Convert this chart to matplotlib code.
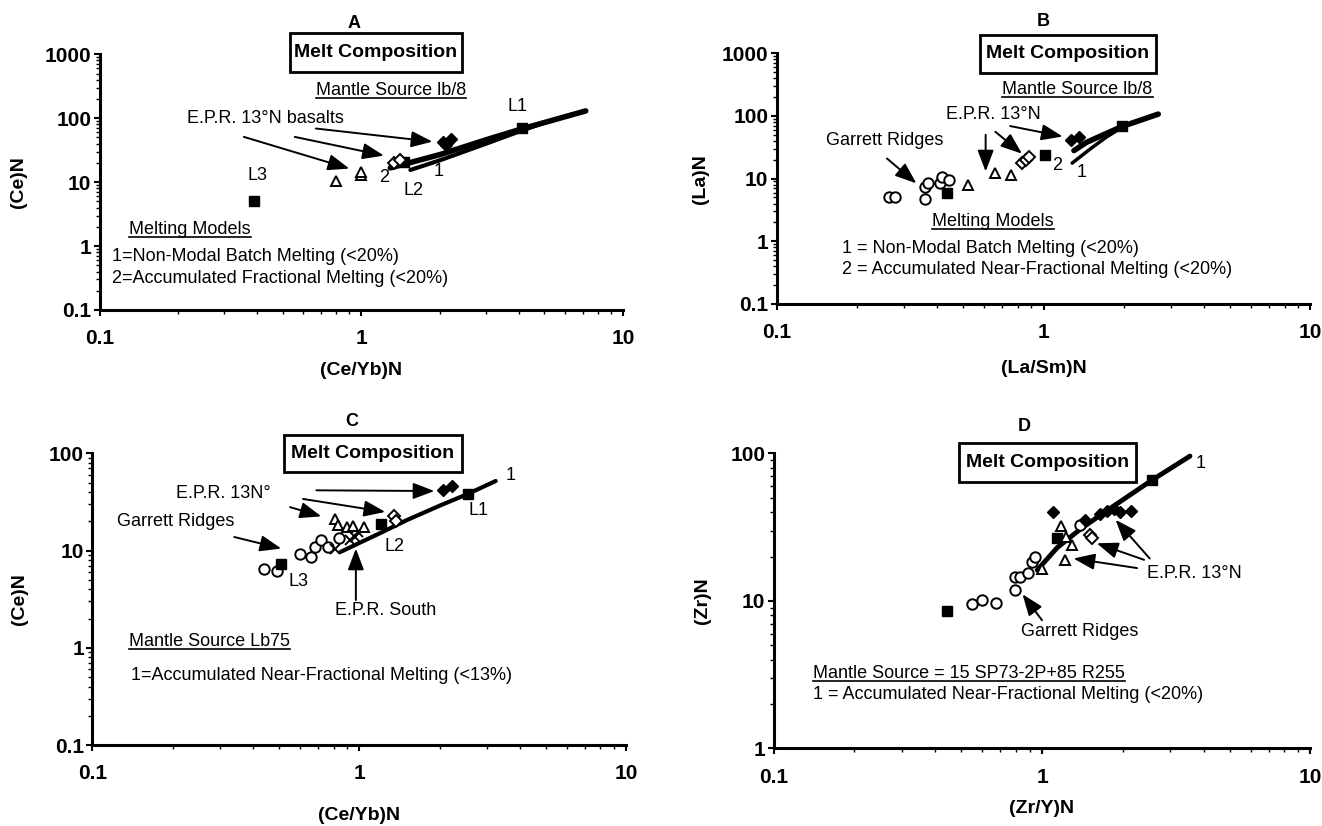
import matplotlib
matplotlib.use('Agg')
import matplotlib.pyplot as plt
from matplotlib.lines import Line2D
from matplotlib.patches import Rectangle

plt.rcParams['font.family'] = ['Liberation Sans', 'DejaVu Sans']
plt.rcParams['font.size'] = 13

# ---------------- panel A : (Ce)N vs (Ce/Yb)N ----------------
a_sq_x = [0.39, 1.45, 4.1]
a_sq_y = [5.0, 21, 70]
a_tri_x = [0.80, 1.0, 1.0]
a_tri_y = [10.5, 13, 14.5]
a_odia_x = [1.33, 1.40]
a_odia_y = [20, 22]
a_fdia_x = [2.05, 2.2, 2.1]
a_fdia_y = [42, 47, 38]
a_c1_x = [1.54, 2.0, 3.0, 4.1, 5.0]
a_c1_y = [15.5, 22, 40, 64, 85]
a_c2_x = [1.29, 2.0, 3.1, 4.1, 7.2]
a_c2_y = [16.7, 27, 48, 68, 130]

# ---------------- panel B : (La)N vs (La/Sm)N ----------------
b_circ_x = [0.264, 0.278, 0.36, 0.36, 0.37, 0.41, 0.415, 0.443]
b_circ_y = [5.0, 5.0, 4.8, 7.4, 8.4, 8.4, 10.8, 9.5]
b_sq_x = [0.436, 1.01, 1.97]
b_sq_y = [6.0, 24, 70]
b_tri_x = [0.52, 0.66, 0.755]
b_tri_y = [7.9, 12.2, 11.5]
b_odia_x = [0.83, 0.86, 0.88]
b_odia_y = [17.6, 20, 22]
b_fdia_x = [1.27, 1.36]
b_fdia_y = [42, 46]
b_c1_x = [1.28, 1.5, 1.72, 1.97]
b_c1_y = [17.7, 30, 46, 66]
b_c2_x = [1.3, 1.45, 1.97, 2.69]
b_c2_y = [28, 38, 68, 107]

# ---------------- panel C : (Ce)N vs (Ce/Yb)N ----------------
c_circ_x = [0.44, 0.49, 0.60, 0.66, 0.68, 0.72, 0.76, 0.84]
c_circ_y = [6.5, 6.2, 9.3, 8.6, 10.9, 12.8, 11.0, 13.5]
c_x_x = [0.81, 0.92, 0.96, 0.99]
c_x_y = [10.5, 12.8, 13.7, 15.7]
c_tri_x = [0.81, 0.83, 0.90, 0.95, 1.04]
c_tri_y = [21, 18.3, 17.5, 18, 17.5]
c_sq_x = [0.51, 1.2, 2.56]
c_sq_y = [7.2, 18.9, 38.5]
c_odia_x = [1.35, 1.37]
c_odia_y = [22.5, 20]
c_fdia_x = [2.05, 2.23]
c_fdia_y = [41.7, 46]
c_c1_x = [0.85, 1.0, 1.2, 1.5, 2.0, 2.56, 3.24]
c_c1_y = [9.7, 12, 15.2, 20.5, 29, 38.5, 52]

# ---------------- panel D : (Zr)N vs (Zr/Y)N ----------------
d_sq_x = [0.443, 1.14, 2.57]
d_sq_y = [8.55, 26.6, 66]
d_circ_x = [0.55, 0.60, 0.675, 0.79, 0.79, 0.83, 0.89, 0.92, 0.94, 1.38]
d_circ_y = [9.6, 10.1, 9.7, 11.9, 14.6, 14.6, 15.4, 18.5, 20, 32.8]
d_tri_x = [1.0, 1.18, 1.23, 1.29, 1.22]
d_tri_y = [16.4, 32, 27, 24, 19]
d_odia_x = [1.51, 1.53]
d_odia_y = [28, 26.7]
d_fdia_x = [1.1, 1.45, 1.65, 1.75, 1.85, 1.95, 2.14]
d_fdia_y = [40, 35.5, 39, 41, 42, 40, 41]
d_c1_x = [0.96, 1.14, 1.4, 1.78, 2.57, 3.56]
d_c1_y = [16.2, 23, 31, 42, 66, 96]

fig = plt.figure(figsize=(13.22, 8.26), dpi=100)
axA = fig.add_axes([0.0753, 0.6247, 0.396, 0.3096])
axB = fig.add_axes([0.5874, 0.632, 0.4039, 0.3035])
axC = fig.add_axes([0.0699, 0.098, 0.4039, 0.3531])
axD = fig.add_axes([0.5852, 0.094, 0.406, 0.357])

underlined = []


def setup(ax, ylim, xlabel, ylabel, letter, letter_x, letter_y, ylab_x, xlab_y):
    ax.set_xscale('log')
    ax.set_yscale('log')
    ax.set_xlim(0.1, 10)
    ax.set_ylim(*ylim)
    for s in ['top', 'right']:
        ax.spines[s].set_visible(False)
    for s in ['left', 'bottom']:
        ax.spines[s].set_linewidth(2.2)
    ax.tick_params(which='major', length=4, width=1.5, labelsize=15)
    ax.tick_params(which='minor', length=3, width=1)
    ax.tick_params(axis='x', which='major', pad=10)
    ax.tick_params(axis='y', which='major', pad=2)
    ax.xaxis.set_major_formatter(plt.FuncFormatter(lambda v, p: '%g' % v))
    ax.yaxis.set_major_formatter(plt.FuncFormatter(lambda v, p: '%g' % v))
    for lab in ax.get_xticklabels() + ax.get_yticklabels():
        lab.set_fontweight('bold')
    ax.set_xlabel(xlabel, fontweight='bold', fontsize=14)
    ax.set_ylabel(ylabel, fontweight='bold', fontsize=14)
    ax.xaxis.set_label_coords(0.5, xlab_y)
    ax.yaxis.set_label_coords(ylab_x, 0.5)
    ax.text(letter_x, letter_y, letter, transform=ax.transAxes, ha='center',
            va='center', fontweight='bold', fontsize=13, clip_on=False)


def melt_box(ax, x0, x1, y0, y1):
    ax.add_patch(Rectangle((x0, y0), x1 - x0, y1 - y0, transform=ax.transAxes,
                           fc='white', ec='black', lw=2, clip_on=False, zorder=5))
    ax.text((x0 + x1) / 2, (y0 + y1) / 2, 'Melt Composition', transform=ax.transAxes,
            ha='center', va='center', fontweight='bold', fontsize=14,
            clip_on=False, zorder=6)


def uline(ax, x, y, s, ha='left', coords='axes'):
    tr = ax.transAxes if coords == 'axes' else ax.transData
    t = ax.text(x, y, s, transform=tr, ha=ha, va='center')
    underlined.append(t)
    return t


def arrow(ax, tail, head):
    ax.annotate('', xy=head, xytext=tail,
                arrowprops=dict(arrowstyle='-|>,head_length=1.0,head_width=0.38',
                                color='black', lw=1.4, shrinkA=0, shrinkB=0))


def mk_open(ax, x, y, m, ms=7.5):
    ax.plot(x, y, m, ls='none', mfc='white', mec='black', mew=1.4, ms=ms)


def mk_fill(ax, x, y, m, ms=7.5):
    ax.plot(x, y, m, ls='none', mfc='black', mec='black', ms=ms)


# ---- A ----
ax = axA
setup(ax, (0.1, 1000), '(Ce/Yb)N', '(Ce)N', 'A', 0.486, 1.121, -0.138, -0.203)
ax.plot(a_c1_x, a_c1_y, color='black', lw=3, solid_capstyle='round')
ax.plot(a_c2_x, a_c2_y, color='black', lw=4, solid_capstyle='round')
mk_fill(ax, a_sq_x, a_sq_y, 's')
mk_open(ax, a_tri_x, a_tri_y, '^')
mk_open(ax, a_odia_x, a_odia_y, 'D', 6.5)
mk_fill(ax, a_fdia_x, a_fdia_y, 'D', 6.5)
ax.text(0.215, 99, 'E.P.R. 13°N basalts', va='center')
arrow(ax, (0.67, 69), (1.87, 43))
arrow(ax, (0.557, 51), (1.22, 26))
arrow(ax, (0.356, 51), (0.90, 16.3))
ax.text(3.95, 150, 'L1', ha='center', va='center')
ax.text(1.58, 7.5, 'L2', ha='center', va='center')
ax.text(0.40, 12.9, 'L3', ha='center', va='center')
ax.text(1.22, 12, '2', ha='center', va='center')
ax.text(1.98, 14.5, '1', ha='center', va='center')
uline(ax, 1.30, 275, 'Mantle Source lb/8', ha='center', coords='data')
melt_box(ax, 0.364, 0.692, 0.932, 1.082)
uline(ax, 0.057, 0.313, 'Melting Models')
ax.text(0.024, 0.209, '1=Non-Modal Batch Melting (<20%)', transform=ax.transAxes,
        va='center')
ax.text(0.024, 0.124, '2=Accumulated Fractional Melting (<20%)', transform=ax.transAxes,
        va='center')

# ---- B ----
ax = axB
setup(ax, (0.1, 1000), '(La/Sm)N', '(La)N', 'B', 0.5, 1.126, -0.127, -0.223)
ax.plot(b_c1_x, b_c1_y, color='black', lw=2.5, solid_capstyle='round')
ax.plot(b_c2_x, b_c2_y, color='black', lw=4, solid_capstyle='round')
mk_open(ax, b_circ_x, b_circ_y, 'o')
mk_fill(ax, b_sq_x, b_sq_y, 's')
mk_open(ax, b_tri_x, b_tri_y, '^')
mk_open(ax, b_odia_x, b_odia_y, 'D', 6.5)
mk_fill(ax, b_fdia_x, b_fdia_y, 'D', 6.5)
ax.text(0.65, 104, 'E.P.R. 13°N', ha='center', va='center')
arrow(ax, (0.75, 69), (1.18, 47))
arrow(ax, (0.66, 56), (0.83, 25))
arrow(ax, (0.607, 50), (0.607, 13))
ax.text(0.254, 41, 'Garrett Ridges', ha='center', va='center')
arrow(ax, (0.259, 21), (0.334, 8.4))
ax.text(1.12, 16, '2', ha='center', va='center')
ax.text(1.39, 12.7, '1', ha='center', va='center')
uline(ax, 1.34, 260, 'Mantle Source lb/8', ha='center', coords='data')
melt_box(ax, 0.381, 0.710, 0.923, 1.073)
uline(ax, 0.405, 0.328, 'Melting Models', ha='center')
ax.text(0.123, 0.222, '1 = Non-Modal Batch Melting (<20%)', transform=ax.transAxes,
        va='center')
ax.text(0.123, 0.136, '2 = Accumulated Near-Fractional Melting (<20%)',
        transform=ax.transAxes, va='center')

# ---- C ----
ax = axC
setup(ax, (0.1, 100), '(Ce/Yb)N', '(Ce)N', 'C', 0.486, 1.109, -0.121, -0.212)
ax.plot(c_c1_x, c_c1_y, color='black', lw=3, solid_capstyle='round')
mk_open(ax, c_circ_x, c_circ_y, 'o')
mk_open(ax, c_x_x, c_x_y, 'x')
mk_open(ax, c_tri_x, c_tri_y, '^')
mk_fill(ax, c_sq_x, c_sq_y, 's')
mk_open(ax, c_odia_x, c_odia_y, 'D', 6.5)
mk_fill(ax, c_fdia_x, c_fdia_y, 'D', 6.5)
ax.text(3.69, 59, '1', ha='center', va='center')
ax.text(2.8, 26, 'L1', ha='center', va='center')
ax.text(1.35, 10.9, 'L2', ha='center', va='center')
ax.text(0.59, 4.8, 'L3', ha='center', va='center')
ax.text(0.31, 38.5, 'E.P.R. 13N°', ha='center', va='center')
arrow(ax, (0.69, 41.7), (1.91, 41))
arrow(ax, (0.615, 34), (1.25, 25))
arrow(ax, (0.55, 28), (0.72, 22.5))
ax.text(0.205, 19.7, 'Garrett Ridges', ha='center', va='center')
arrow(ax, (0.34, 13.8), (0.51, 10.5))
ax.text(1.25, 2.44, 'E.P.R. South', ha='center', va='center')
arrow(ax, (0.97, 3.1), (0.97, 10.5))
melt_box(ax, 0.359, 0.692, 0.937, 1.063)
uline(ax, 0.069, 0.354, 'Mantle Source Lb75')
ax.text(0.073, 0.24, '1=Accumulated Near-Fractional Melting (<13%)',
        transform=ax.transAxes, va='center')

# ---- D ----
ax = axD
setup(ax, (1, 100), '(Zr/Y)N', '(Zr)N', 'D', 0.467, 1.09, -0.117, -0.176)
ax.plot(d_c1_x, d_c1_y, color='black', lw=3.5, solid_capstyle='round')
mk_fill(ax, d_sq_x, d_sq_y, 's')
mk_open(ax, d_circ_x, d_circ_y, 'o')
mk_open(ax, d_tri_x, d_tri_y, '^')
mk_open(ax, d_odia_x, d_odia_y, 'D', 6.5)
mk_fill(ax, d_fdia_x, d_fdia_y, 'D', 6.5)
ax.text(3.9, 86, '1', ha='center', va='center')
ax.text(3.69, 15.4, 'E.P.R. 13°N', ha='center', va='center')
arrow(ax, (2.52, 19.4), (1.88, 35.5))
arrow(ax, (2.4, 19), (1.6, 24.6))
arrow(ax, (2.26, 16.7), (1.31, 19.4))
ax.text(1.38, 6.2, 'Garrett Ridges', ha='center', va='center')
arrow(ax, (1.0, 7.4), (0.846, 11.1))
melt_box(ax, 0.345, 0.676, 0.904, 1.034)
uline(ax, 0.073, 0.254, 'Mantle Source = 15 SP73-2P+85 R255')
ax.text(0.073, 0.181, '1 = Accumulated Near-Fractional Melting (<20%)',
        transform=ax.transAxes, va='center')

# underline the headings once their size is known
fig.canvas.draw()
r = fig.canvas.get_renderer()
inv = fig.transFigure.inverted()
for t in underlined:
    bb = t.get_window_extent(r)
    (x0, y0), (x1, _) = inv.transform([(bb.x0, bb.y0 + 1), (bb.x1, bb.y0)])
    fig.add_artist(Line2D([x0, x1], [y0, y0], color='black', lw=1.2,
                          transform=fig.transFigure))

fig.savefig('out.png', dpi=100)
